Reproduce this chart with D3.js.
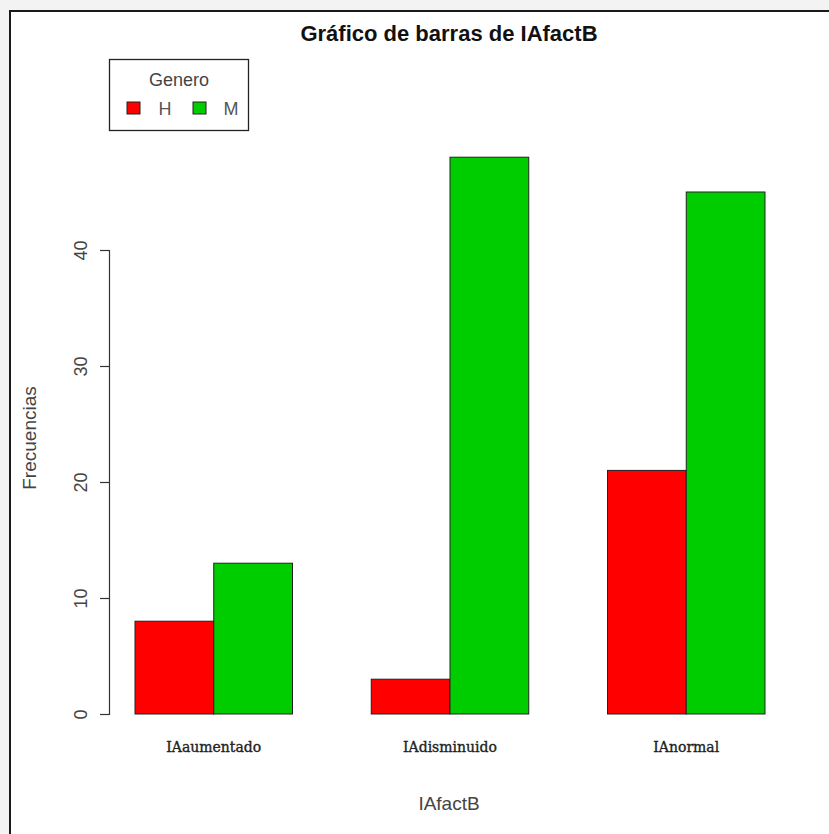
<!DOCTYPE html>
<html>
<head>
<meta charset="utf-8">
<script src="https://cdn.jsdelivr.net/npm/d3@7"></script>
<style>
  html, body { margin: 0; padding: 0; background: #f3f3f3; overflow: hidden; }
  svg { display: block; }
</style>
</head>
<body>
<svg id="chart" width="829" height="834"></svg>
<script>
// ---- data ----
const categories = ["IAaumentado", "IAdisminuido", "IAnormal"];
const seriesNames = ["H", "M"];
const seriesH = [8, 3, 21];
const seriesM = [13, 48, 45];
const yTicks = [0, 10, 20, 30, 40];
const colors = ["#ff0000", "#00cd00"];

const title = "Gráfico de barras de IAfactB";
const xTitle = "IAfactB";
const yTitle = "Frecuencias";
const legendTitle = "Genero";

const svg = d3.select("#chart");

// outer frame
svg.append("rect").attr("x", 10).attr("y", 11).attr("width", 830).attr("height", 830)
  .attr("fill", "#ffffff").attr("stroke", "#1a1a1a").attr("stroke-width", 2);

// scales (R barplot style: each bar 1 unit, groups separated by 1 unit)
const x = d3.scaleLinear().domain([1, 9]).range([135, 765]);
const y = d3.scaleLinear().domain([0, 40]).range([714, 250]);

const values = [seriesH, seriesM];
const bars = [];
categories.forEach((c, i) => {
  values.forEach((s, j) => {
    bars.push({cat: c, g: i, s: j, v: s[i], u: 1 + 3 * i + j});
  });
});

svg.append("g").selectAll("rect").data(bars).join("rect")
  .attr("x", d => x(d.u))
  .attr("width", d => x(d.u + 1) - x(d.u))
  .attr("y", d => y(d.v))
  .attr("height", d => y(0) - y(d.v))
  .attr("fill", d => colors[d.s])
  .attr("stroke", "#222")
  .attr("stroke-width", 1);

// y axis
const yAxis = d3.axisLeft(y).tickValues(yTicks).tickSize(9).tickPadding(4);
const gy = svg.append("g").attr("transform", "translate(109,0)").call(yAxis);
gy.select(".domain").attr("stroke", "#333").attr("stroke-width", 1.2);
gy.selectAll(".tick line").attr("stroke", "#333").attr("stroke-width", 1.2);
gy.selectAll(".tick text")
  .attr("font-family", "Liberation Sans, Arial, sans-serif")
  .attr("font-size", 18)
  .attr("fill", "#444")
  .attr("text-anchor", "middle")
  .attr("dy", 0)
  .attr("x", 0)
  .attr("transform", `translate(-22,0) rotate(-90)`);

// category labels
svg.append("g").selectAll("text").data(categories).join("text")
  .attr("x", (d, i) => x(2 + 3 * i))
  .attr("y", 752)
  .attr("text-anchor", "middle")
  .attr("font-family", "DejaVu Serif, serif")
  .attr("font-size", 14)
  .attr("fill", "#222")
  .attr("stroke", "#222")
  .attr("stroke-width", 0.35)
  .text(d => d);

// title
svg.append("text").attr("x", 449).attr("y", 41)
  .attr("text-anchor", "middle")
  .attr("font-family", "Liberation Sans, Arial, sans-serif")
  .attr("font-weight", "bold")
  .attr("font-size", 22)
  .attr("fill", "#111")
  .text(title);

// x title
svg.append("text").attr("x", 449).attr("y", 810)
  .attr("text-anchor", "middle")
  .attr("font-family", "Liberation Sans, Arial, sans-serif")
  .attr("font-size", 19)
  .attr("fill", "#444")
  .text(xTitle);

// y title
svg.append("text")
  .attr("transform", "translate(36,438) rotate(-90)")
  .attr("text-anchor", "middle")
  .attr("font-family", "Liberation Sans, Arial, sans-serif")
  .attr("font-size", 19)
  .attr("fill", "#444")
  .text(yTitle);

// legend
const lg = svg.append("g");
lg.append("rect").attr("x", 109.5).attr("y", 59.5).attr("width", 139).attr("height", 71)
  .attr("fill", "#fff").attr("stroke", "#222").attr("stroke-width", 1.3);
lg.append("text").attr("x", 179).attr("y", 86)
  .attr("text-anchor", "middle")
  .attr("font-family", "Liberation Sans, Arial, sans-serif")
  .attr("font-size", 18)
  .attr("fill", "#444")
  .text(legendTitle);
const items = lg.selectAll("g.item").data(seriesNames).join("g")
  .attr("class", "item")
  .attr("transform", (d, i) => `translate(${127 + i * 66},102)`);
items.append("rect").attr("width", 13).attr("height", 12)
  .attr("fill", (d, i) => colors[i]).attr("stroke", "#222").attr("stroke-width", 1);
items.append("text").attr("x", 38).attr("y", 13)
  .attr("text-anchor", "middle")
  .attr("font-family", "Liberation Sans, Arial, sans-serif")
  .attr("font-size", 18)
  .attr("fill", "#555")
  .text(d => d);
</script>
</body>
</html>
